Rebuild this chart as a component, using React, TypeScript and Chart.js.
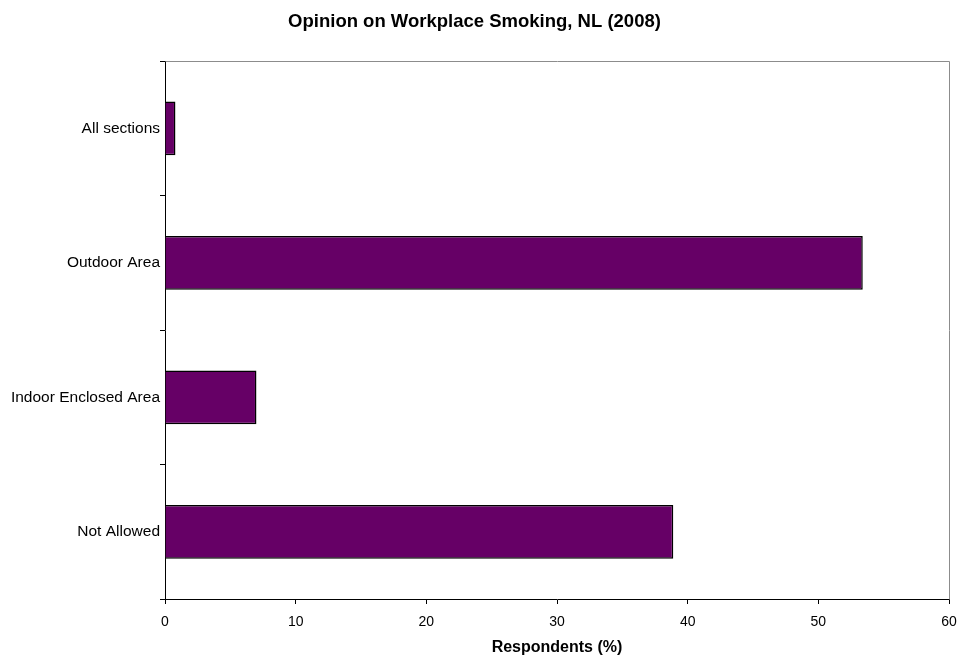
import React, { useEffect, useRef } from "react";
import { Chart, registerables } from "chart.js";

Chart.register(...registerables);

const categories = ["All sections", "Outdoor Area", "Indoor Enclosed Area", "Not Allowed"];
const values = [0.8, 53.4, 7.0, 38.9];
const xMin = 0;
const xMax = 60;
const xStep = 10;
const titleText = "Opinion on Workplace Smoking, NL (2008)";
const xTitle = "Respondents (%)";

const frame = {
  id: "frame",
  afterDraw(chart: any) {
    const { ctx, chartArea } = chart;
    const { left, top, right, bottom } = chartArea;
    ctx.save();
    ctx.strokeStyle = "#8c8c8c";
    ctx.lineWidth = 1;
    ctx.beginPath();
    ctx.moveTo(Math.round(left) + 0.5, Math.round(top) + 0.5);
    ctx.lineTo(Math.round(right) + 0.5, Math.round(top) + 0.5);
    ctx.lineTo(Math.round(right) + 0.5, Math.round(bottom) + 0.5);
    ctx.stroke();
    ctx.restore();
  },
};

export default function App() {
  const ref = useRef<HTMLCanvasElement | null>(null);
  useEffect(() => {
    if (!ref.current) return;
    const font = "Arial, 'Liberation Sans', sans-serif";
    const chart = new Chart(ref.current, {
      type: "bar",
      data: {
        labels: categories,
        datasets: [
          {
            data: values,
            backgroundColor: "#660066",
            borderColor: "#000000",
            borderWidth: 1.5,
            categoryPercentage: 1,
            barPercentage: 0.4,
          },
        ],
      },
      options: {
        indexAxis: "y",
        animation: false,
        responsive: false,
        maintainAspectRatio: false,
        layout: { padding: { left: 0, right: 12, top: 0, bottom: 0 } },
        plugins: {
          legend: { display: false },
          tooltip: { enabled: false },
          title: {
            display: true,
            text: titleText,
            color: "#000",
            font: { family: font, size: 18.5, weight: "bold", lineHeight: 1.2 },
            padding: { top: 11, bottom: 28 },
          },
        },
        scales: {
          x: {
            type: "linear",
            min: xMin,
            max: xMax,
            ticks: { stepSize: xStep, color: "#000", font: { family: font, size: 14 }, padding: 10 },
            grid: { drawOnChartArea: false, tickLength: 5, color: "#000" },
            border: { display: true, color: "#000" },
            title: {
              display: true,
              text: xTitle,
              color: "#000",
              font: { family: font, size: 16, weight: "bold", lineHeight: 1 },
              padding: { top: 4, bottom: 0 },
            },
            afterFit(scale: any) {
              scale.height = 57;
              scale.paddingLeft = 0;
              scale.paddingRight = 0;
            },
          },
          y: {
            type: "category",
            offset: true,
            ticks: { color: "#000", font: { family: font, size: 15.5 }, padding: 0 },
            grid: { drawOnChartArea: false, tickLength: 5, color: "#000", offset: true },
            border: { display: true, color: "#000" },
            afterFit(scale: any) {
              scale.width = 165;
              scale.paddingTop = 0;
              scale.paddingBottom = 0;
            },
          },
        },
      },
      plugins: [frame],
    });
    return () => chart.destroy();
  }, []);
  return (
    <div style={{ position: "absolute", left: 0, top: 0, width: 961, height: 656, background: "#fff" }}>
      <canvas ref={ref} width={961} height={656} style={{ width: 961, height: 656 }} />
    </div>
  );
}
